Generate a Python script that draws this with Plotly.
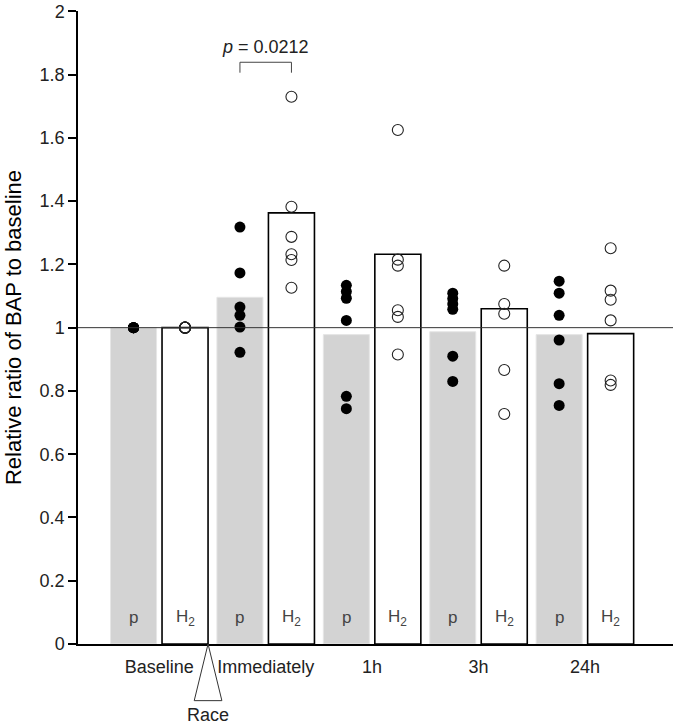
import plotly.graph_objects as go

# ---------------- data ----------------
categories = ["Baseline", "Immediately", "1h", "3h", "24h"]
placebo_mean = [1.00, 1.096, 0.978, 0.987, 0.978]
h2_mean = [1.00, 1.363, 1.232, 1.060, 0.981]

placebo_points = [
    [1.0, 1.0, 1.0, 1.0, 1.0, 1.0],
    [1.318, 1.173, 1.065, 1.039, 1.002, 0.922],
    [1.134, 1.114, 1.093, 1.023, 0.783, 0.744],
    [1.109, 1.092, 1.075, 1.058, 0.910, 0.830],
    [1.147, 1.109, 1.039, 0.961, 0.823, 0.754],
]
h2_points = [
    [1.0, 1.0, 1.0, 1.0, 1.0, 1.0],
    [1.730, 1.382, 1.287, 1.232, 1.214, 1.126],
    [1.625, 1.215, 1.196, 1.055, 1.034, 0.915],
    [1.196, 1.075, 1.044, 0.866, 0.727],
    [1.251, 1.117, 1.088, 1.023, 0.833, 0.819],
]
bar_labels = ["p", "H<sub>2</sub>"]
p_value_text = "<i>p</i> = 0.0212"
y_ticks = [0, 0.2, 0.4, 0.6, 0.8, 1, 1.2, 1.4, 1.6, 1.8, 2]

# ---------------- layout helpers ----------------
FONT = "Liberation Sans, Arial, sans-serif"
group_pos = [2 * i for i in range(len(categories))]
offset = 0.484
bar_w = 0.865
p_x = [g - offset for g in group_pos]
h_x = [g + offset for g in group_pos]

fig = go.Figure()

fig.add_trace(go.Bar(x=p_x, y=placebo_mean, width=bar_w,
                     marker=dict(color="#d3d3d3", line=dict(color="#e6e6e6", width=1)),
                     showlegend=False, hoverinfo="skip"))
fig.add_trace(go.Bar(x=h_x, y=h2_mean, width=bar_w,
                     marker=dict(color="white", line=dict(color="black", width=1.6)),
                     showlegend=False, hoverinfo="skip"))

# points
px_, py_, hx_, hy_ = [], [], [], []
for i in range(len(categories)):
    for v in placebo_points[i]:
        px_.append(p_x[i]); py_.append(v)
    for v in h2_points[i]:
        hx_.append(h_x[i]); hy_.append(v)

fig.add_trace(go.Scatter(x=px_, y=py_, mode="markers",
                         marker=dict(symbol="circle", size=11, color="black"),
                         showlegend=False, hoverinfo="skip"))
fig.add_trace(go.Scatter(x=hx_, y=hy_, mode="markers",
                         marker=dict(symbol="circle-open", size=11, color="#222",
                                     line=dict(width=1.1)),
                         showlegend=False, hoverinfo="skip"))

# reference line at 1
fig.add_shape(type="line", xref="paper", yref="y", x0=0, x1=1, y0=1, y1=1,
              line=dict(color="#333", width=1), layer="above")

# p / H2 labels inside bars
for i in range(len(categories)):
    for xx, lab in ((p_x[i], bar_labels[0]), (h_x[i], bar_labels[1])):
        fig.add_annotation(x=xx, y=0.083, text=lab, showarrow=False,
                           font=dict(family=FONT, size=17, color="#444"))

# significance bracket
fig.add_shape(type="path",
              path=f"M {p_x[1]},1.806 L {p_x[1]},1.839 L {h_x[1]},1.839 L {h_x[1]},1.806",
              line=dict(color="#444", width=1))
fig.add_annotation(x=(p_x[1] + h_x[1]) / 2, y=1.887, text=p_value_text, showarrow=False,
                   font=dict(family=FONT, size=18, color="#222"))

# Race triangle below axis
apex_x = h_x[0] + bar_w / 2
fig.add_shape(type="path", xref="x", yref="paper",
              path=f"M {apex_x},0 L {apex_x - 0.26},-0.0895 L {apex_x + 0.26},-0.0895 Z",
              line=dict(color="#333", width=1), fillcolor="white")
fig.add_annotation(x=apex_x, xref="x", y=-0.1115, yref="paper", yanchor="middle",
                   text="Race", showarrow=False,
                   font=dict(family=FONT, size=18, color="#222"))

fig.update_layout(
    width=675, height=724,
    margin=dict(l=78, r=2, t=7, b=80),
    plot_bgcolor="white", paper_bgcolor="white",
    barmode="overlay",
    font=dict(family=FONT, color="#222"),
    xaxis=dict(range=[-1.528, 9.656], tickvals=group_pos, ticktext=categories,
               showline=True, linecolor="black", linewidth=1.5,
               ticks="outside", ticklen=6, tickcolor="rgba(0,0,0,0)",
               tickfont=dict(family=FONT, size=18, color="#222"),
               showgrid=False, zeroline=False, fixedrange=True),
    yaxis=dict(range=[0, 2.001], tickvals=y_ticks, ticklabeloverflow="allow",
               showline=True, linecolor="black", linewidth=1.5,
               ticks="outside", ticklen=8, tickwidth=1.5, tickcolor="black",
               tickfont=dict(family=FONT, size=18, color="#222"),
               showgrid=False, zeroline=False,
               title=dict(text="Relative ratio of BAP to baseline",
                          font=dict(family=FONT, size=22, color="black"), standoff=12)),
)

fig.write_html("out.html", config={"displayModeBar": False},
               post_script="document.body.style.margin='0px';")
